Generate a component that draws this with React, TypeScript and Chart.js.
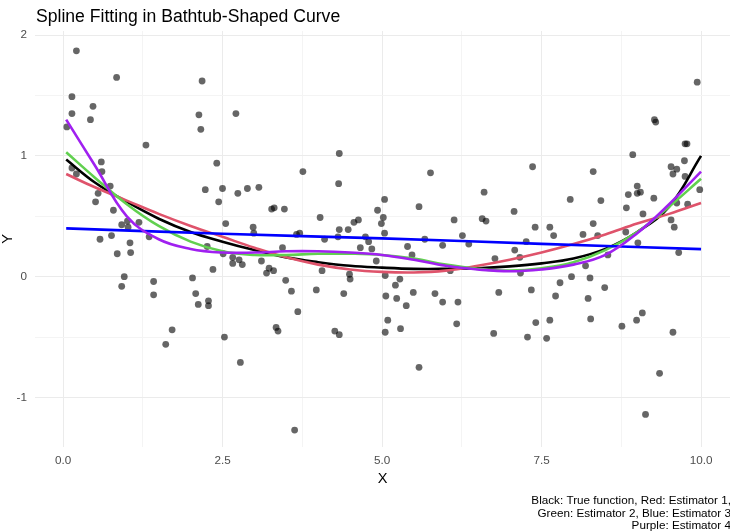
import React, { useEffect, useRef } from "react";
import { Chart, registerables } from "chart.js";
Chart.register(...registerables);

const titleText = "Spline Fitting in Bathtub-Shaped Curve";
const xAxisTitle = "X";
const yAxisTitle = "Y";
const captionLines = [
  "Black: True function, Red: Estimator 1,",
  "Green: Estimator 2, Blue: Estimator 3",
  "Purple: Estimator 4",
];

const xMajorTicks = [0, 2.5, 5, 7.5, 10];
const xMajorLabels = ["0.0", "2.5", "5.0", "7.5", "10.0"];
const xMinorTicks = [1.25, 3.75, 6.25, 8.75];
const yMajorTicks = [-1, 0, 1, 2];
const yMajorLabels = ["-1", "0", "1", "2"];
const yMinorTicks = [-0.5, 0.5, 1.5];

const pointX = [
  0.21, 0.84, 2.18, 0.14, 0.14, 0.47, 0.43, 0.06, 2.13, 2.16, 1.30, 2.41, 0.60, 0.14, 0.21, 0.61, 0.74, 0.55, 0.51, 0.79, 2.23, 2.44, 0.92, 1.01, 1.02, 1.19,
  2.71, 2.50, 2.74, 2.89, 3.07, 3.76, 4.33, 4.32, 3.27, 3.31, 3.47, 2.55, 2.98, 4.03, 4.56, 4.63, 4.93, 4.33, 4.47,
  5.76, 7.36, 5.04, 5.02, 4.99, 5.58, 6.60, 6.13, 6.57, 6.63, 7.07, 7.40, 7.63,
  9.94, 9.27, 9.29, 9.75, 9.78, 8.93, 8.31, 9.74, 9.53, 9.62, 9.56, 9.75, 9.00, 8.86, 9.00, 9.05, 7.95, 8.43, 9.26, 9.98, 8.83, 9.62, 9.79, 9.09, 8.31, 9.53, 9.58,
  0.58, 0.76, 0.85, 1.05, 1.06, 1.35, 0.96, 0.92, 1.42, 1.42, 1.71, 1.61, 2.03, 2.35, 2.26, 2.08, 2.12, 2.28, 2.28,
  2.99, 2.51, 2.66, 2.66, 2.76, 2.81, 3.11, 3.23, 3.30, 3.19, 3.44, 3.49, 3.58, 3.68, 3.34, 3.37, 2.53, 2.78, 3.63, 3.66, 3.71, 4.10, 4.06, 3.97, 4.31, 4.74, 4.79, 4.84, 4.66, 4.91, 4.49, 4.50, 4.40, 4.26, 4.33,
  5.04, 5.05, 5.06, 5.09, 5.05, 5.21, 5.28, 5.23, 5.38, 5.29, 5.40, 5.47, 5.49, 5.67, 5.58, 5.83, 5.95, 5.95, 6.07, 6.19, 6.17, 6.26, 6.36, 6.77, 6.83, 6.75, 7.08, 7.16, 7.17, 7.26, 7.34, 7.41, 7.28, 7.58, 7.63,
  7.69, 7.79, 7.72, 7.97, 8.15, 8.38, 8.19, 8.26, 8.23, 8.27, 8.49, 8.54, 8.82, 9.01, 8.76, 8.99, 9.08, 9.35, 9.13, 9.56, 9.65,
];
const pointY = [
  1.87, 1.65, 1.62, 1.49, 1.35, 1.41, 1.30, 1.24, 1.34, 1.22, 1.09, 0.94, 0.95, 0.90, 0.85, 0.87, 0.75, 0.69, 0.62, 0.55, 0.72, 0.62, 0.43, 0.46, 0.41, 0.45,
  1.35, 0.73, 0.69, 0.73, 0.74, 0.87, 1.02, 0.77, 0.56, 0.57, 0.56, 0.44, 0.41, 0.49, 0.45, 0.47, 0.55, 0.39, 0.39,
  0.86, 0.91, 0.64, 0.49, 0.44, 0.58, 0.70, 0.47, 0.48, 0.46, 0.54, 0.41, 0.41,
  1.61, 1.30, 1.28, 1.10, 1.10, 1.01, 0.87, 0.96, 0.91, 0.89, 0.85, 0.83, 0.75, 0.68, 0.69, 0.70, 0.64, 0.63, 0.65, 0.72, 0.57, 0.61, 0.60, 0.52, 0.44, 0.47, 0.41,
  0.31, 0.34, 0.19, 0.28, 0.20, 0.33, 0.00, -0.08, -0.04, -0.15, -0.44, -0.56, -0.01, 0.06, 0.25, -0.14, -0.23, -0.20, -0.24,
  0.36, 0.19, 0.16, 0.11, 0.14, 0.10, 0.13, 0.07, 0.05, 0.03, 0.24, -0.03, -0.12, -0.29, -0.42, -0.45, -0.50, -0.71, -1.27, 0.35, 0.36, 0.31, 0.05, -0.11, 0.33, 0.33, 0.29, 0.23, 0.24, 0.13, 0.02, -0.02, -0.14, -0.45, -0.48,
  0.36, 0.01, -0.16, -0.36, -0.46, -0.07, -0.02, -0.18, -0.24, -0.43, 0.25, 0.18, -0.13, 0.31, -0.75, -0.14, 0.26, -0.21, 0.05, -0.21, -0.39, 0.34, 0.27, 0.15, -0.13, -0.47, 0.22, 0.16, 0.03, 0.29, -0.11, -0.38, -0.50, -0.51, -0.36,
  0.34, -0.05, -0.16, 0.00, 0.35, 0.34, 0.09, -0.01, -0.18, -0.35, -0.09, 0.18, 0.37, 0.28, -0.41, -0.36, -0.30, -0.80, -1.14, -0.46, 0.20,
];

const curveX = [0.05, 0.5, 1, 1.5, 2, 2.5, 3, 3.5, 4, 4.5, 5, 5.5, 6, 6.5, 7, 7.5, 8, 8.5, 9, 9.5, 10];
const trueY = [0.97, 0.78, 0.62, 0.48, 0.37, 0.29, 0.22, 0.16, 0.12, 0.09, 0.075, 0.065, 0.065, 0.07, 0.085, 0.11, 0.15, 0.23, 0.37, 0.58, 1.0];
const est1Y = [0.85, 0.74, 0.63, 0.52, 0.42, 0.33, 0.24, 0.16, 0.10, 0.06, 0.04, 0.035, 0.05, 0.09, 0.14, 0.20, 0.27, 0.35, 0.44, 0.52, 0.61];
const est2Y = [1.03, 0.82, 0.60, 0.42, 0.29, 0.21, 0.18, 0.18, 0.19, 0.19, 0.18, 0.15, 0.10, 0.065, 0.05, 0.07, 0.12, 0.22, 0.37, 0.58, 0.81];
const est4Y = [1.30, 0.92, 0.50, 0.31, 0.23, 0.20, 0.20, 0.21, 0.21, 0.20, 0.18, 0.14, 0.09, 0.06, 0.045, 0.06, 0.10, 0.18, 0.36, 0.60, 0.87];
const est3X = [0.05, 2.5, 5, 7.5, 10];
const est3Y = [0.40, 0.355, 0.317, 0.272, 0.228];

const FONT = "'Liberation Sans', Arial, Helvetica, sans-serif";

const toPts = (xs: number[], ys: number[]) => xs.map((x, i) => ({ x, y: ys[i] }));

export default function App() {
  const ref = useRef<HTMLCanvasElement | null>(null);
  useEffect(() => {
    if (!ref.current) return;
    const textPlugin = {
      id: "texts",
      afterDraw(chart: any) {
        const ctx = chart.ctx as CanvasRenderingContext2D;
        const area = chart.chartArea;
        ctx.save();
        ctx.fillStyle = "#000000";
        ctx.font = `17.6px ${FONT}`;
        ctx.textAlign = "left";
        ctx.textBaseline = "alphabetic";
        ctx.fillText(titleText, area.left + 1, 22);
        ctx.font = `14.6px ${FONT}`;
        ctx.textAlign = "center";
        ctx.fillText(xAxisTitle, (area.left + area.right) / 2, 483);
        ctx.save();
        ctx.translate(12, (area.top + area.bottom) / 2);
        ctx.rotate(-Math.PI / 2);
        ctx.fillText(yAxisTitle, 0, 0);
        ctx.restore();
        ctx.font = `11.7px ${FONT}`;
        ctx.textAlign = "right";
        const bases = [504, 516.5, 529];
        captionLines.forEach((l, i) => ctx.fillText(l, 731, bases[i]));
        ctx.restore();
      },
    };
    const lineDs = (label: string, xs: number[], ys: number[], color: string, order: number) => ({
      type: "line" as const,
      label,
      data: toPts(xs, ys),
      borderColor: color,
      backgroundColor: color,
      borderWidth: 2.6,
      pointRadius: 0,
      tension: 0.4,
      fill: false,
      order,
    });
    const majorX = new Set(xMajorTicks);
    const majorY = new Set(yMajorTicks);
    const chart = new Chart(ref.current, {
      type: "scatter",
      data: {
        datasets: [
          lineDs("True function", curveX, trueY, "#000000", 5),
          lineDs("Estimator 1", curveX, est1Y, "#DF536B", 4),
          lineDs("Estimator 2", curveX, est2Y, "#61D04F", 3),
          lineDs("Estimator 3", est3X, est3Y, "#0000FF", 2),
          lineDs("Estimator 4", curveX, est4Y, "#A020F0", 1),
          {
            type: "scatter" as const,
            label: "Data",
            data: toPts(pointX, pointY),
            pointRadius: 3.4,
            pointBorderWidth: 0,
            backgroundColor: "rgba(0,0,0,0.6)",
            borderColor: "rgba(0,0,0,0)",
            order: 10,
          },
        ] as any,
      },
      options: {
        responsive: false,
        animation: false,
        devicePixelRatio: 1,
        layout: { autoPadding: false, padding: { left: 0, right: 0, top: 31, bottom: 0 } },
        plugins: { legend: { display: false }, tooltip: { enabled: false }, title: { display: false } },
        scales: {
          x: {
            type: "linear",
            min: -0.439,
            max: 10.454,
            afterBuildTicks: (s: any) => {
              s.ticks = [...xMajorTicks, ...xMinorTicks].sort((a, b) => a - b).map((v) => ({ value: v }));
            },
            afterFit: (s: any) => {
              s.height = 85;
            },
            border: { display: false },
            grid: {
              drawTicks: false,
              color: (c: any) => (c.tick && majorX.has(c.tick.value) ? "#EBEBEB" : "#F4F4F4"),
              lineWidth: 1,
            },
            ticks: {
              autoSkip: false,
              maxRotation: 0,
              padding: 7,
              color: "#4D4D4D",
              font: { family: FONT, size: 11.7 },
              callback: (v: any) => {
                const i = xMajorTicks.indexOf(Number(v));
                return i >= 0 ? xMajorLabels[i] : "";
              },
            },
          },
          y: {
            type: "linear",
            min: -1.41,
            max: 2.034,
            afterBuildTicks: (s: any) => {
              s.ticks = [...yMajorTicks, ...yMinorTicks].sort((a, b) => a - b).map((v) => ({ value: v }));
            },
            afterFit: (s: any) => {
              s.width = 35;
            },
            border: { display: false },
            grid: {
              drawTicks: false,
              color: (c: any) => (c.tick && majorY.has(c.tick.value) ? "#EBEBEB" : "#F4F4F4"),
              lineWidth: 1,
            },
            ticks: {
              autoSkip: false,
              padding: 8,
              color: "#4D4D4D",
              font: { family: FONT, size: 11.7 },
              callback: (v: any) => {
                const i = yMajorTicks.indexOf(Number(v));
                return i >= 0 ? yMajorLabels[i] : "";
              },
            },
          },
        },
      } as any,
      plugins: [textPlugin],
    });
    return () => chart.destroy();
  }, []);
  return (
    <div style={{ position: "fixed", left: 0, top: 0, width: 730, height: 532, background: "#fff" }}>
      <canvas ref={ref} width={730} height={532} style={{ width: 730, height: 532, display: "block" }} />
    </div>
  );
}
